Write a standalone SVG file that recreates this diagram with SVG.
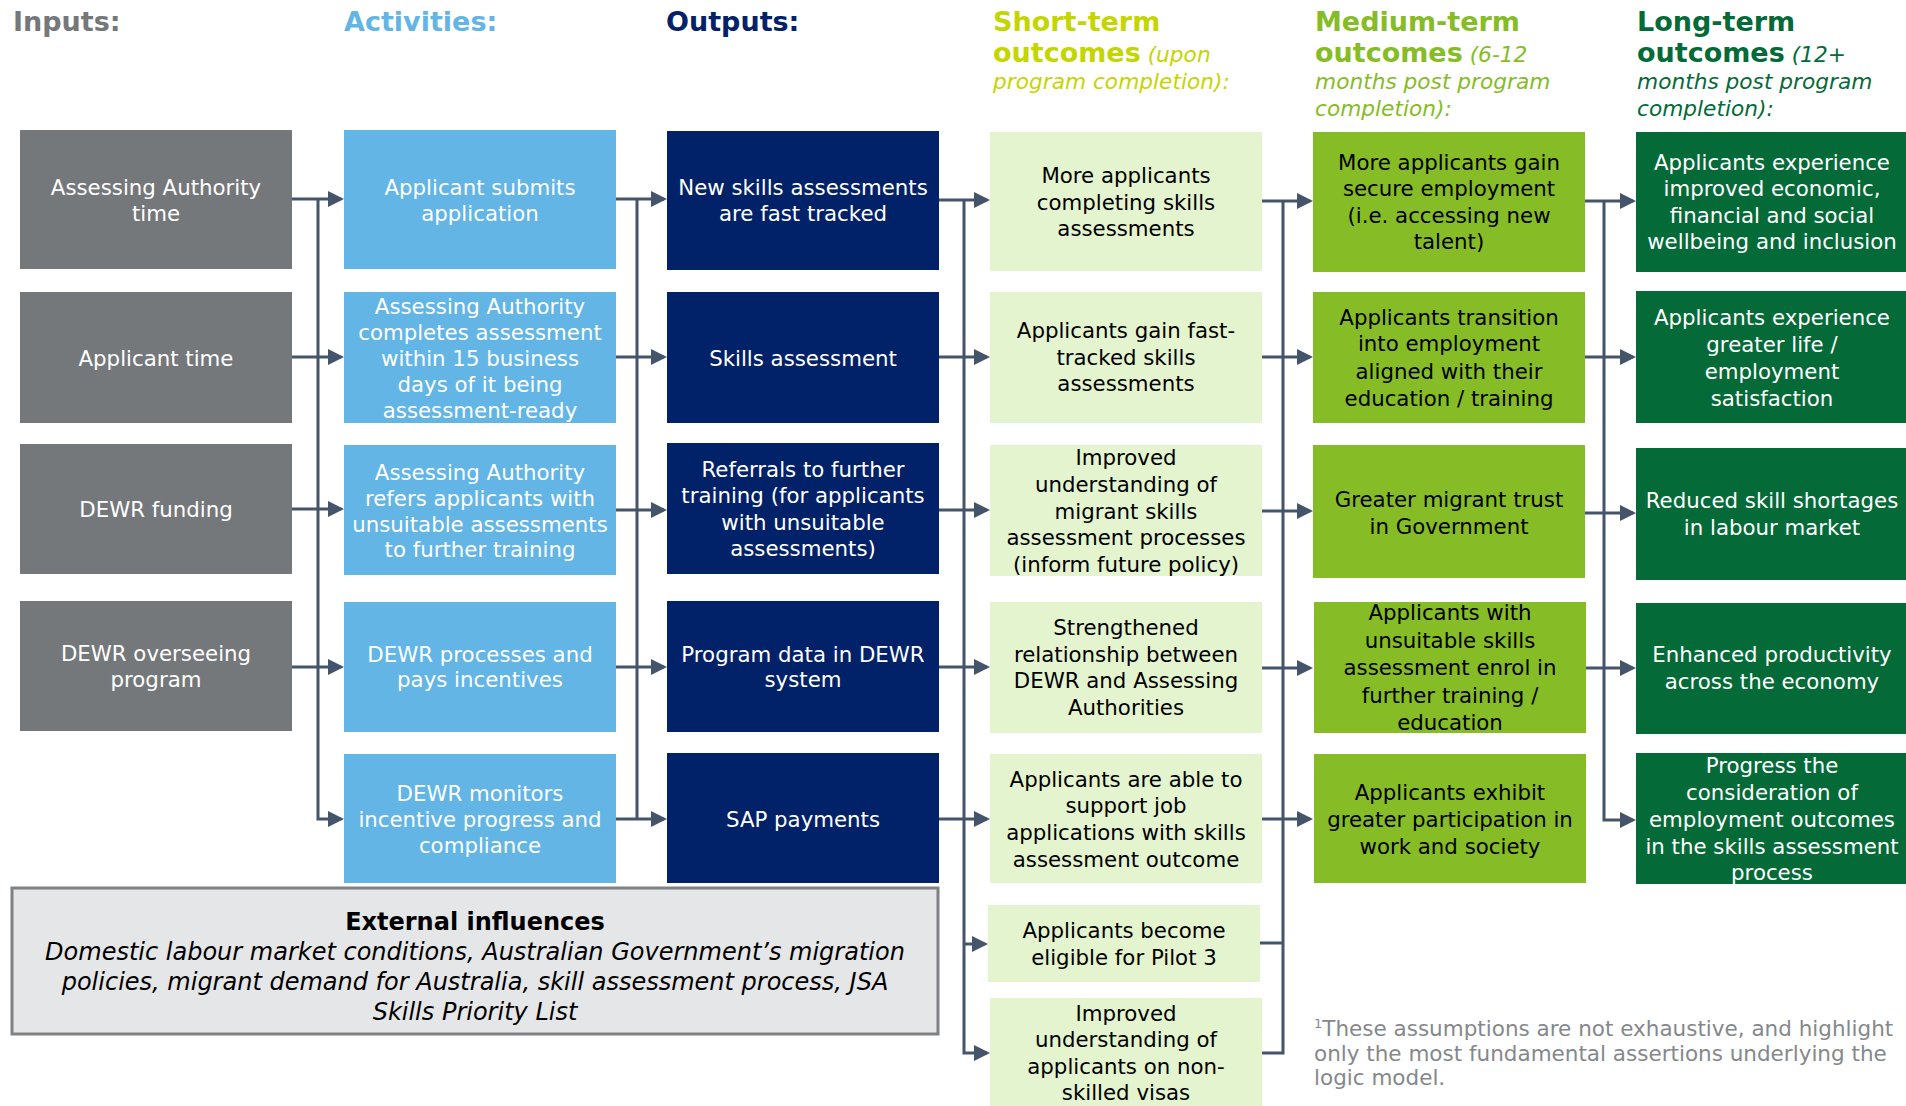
<svg xmlns="http://www.w3.org/2000/svg" width="1906" height="1106" viewBox="0 0 1906 1106">
<style>
.hd{font-family:"DejaVu Sans",Verdana,sans-serif;font-weight:bold;font-size:27px}
.hi{font-family:"DejaVu Sans",Verdana,sans-serif;font-style:italic;font-weight:normal;font-size:21.7px}
.t{font-family:"DejaVu Sans",Verdana,sans-serif;font-size:21.3px;text-anchor:middle}
.w{fill:#ffffff}
.k{fill:#000000}
.in{fill:#75787b}
.ac{fill:#62b5e5}
.ou{fill:#012169}
.st{fill:#e3f4cf}
.md{fill:#86bc25}
.lg{fill:#046a38}
.cn{fill:none;stroke:#44546a;stroke-width:3}
.fn{font-family:"DejaVu Sans",Verdana,sans-serif;font-size:21.5px;fill:#85888b}
.ex{font-family:"DejaVu Sans",Verdana,sans-serif;font-size:24px;text-anchor:middle;fill:#000000}
</style>
<defs>
<marker id="ah" markerUnits="userSpaceOnUse" viewBox="0 0 16 16" markerWidth="16" markerHeight="16" refX="13" refY="8" orient="auto">
<path d="M0,0 L16,8 L0,16 z" fill="#44546a"/>
</marker>
</defs>

<g id="headers">
<text class="hd" x="13" y="31" fill="#75787b">Inputs:</text>
<text class="hd" x="344" y="31" fill="#62b5e5">Activities:</text>
<text class="hd" x="666" y="31" fill="#012169">Outputs:</text>
<g fill="#c4d600">
<text class="hd" x="993" y="31">Short-term</text>
<text x="993" y="62"><tspan class="hd">outcomes</tspan><tspan class="hi"> (upon</tspan></text>
<text class="hi" x="993" y="89">program completion):</text>
</g>
<g fill="#86bc25">
<text class="hd" x="1315" y="31">Medium-term</text>
<text x="1315" y="62"><tspan class="hd">outcomes</tspan><tspan class="hi"> (6-12</tspan></text>
<text class="hi" x="1315" y="89">months post program</text>
<text class="hi" x="1315" y="116">completion):</text>
</g>
<g fill="#046a38">
<text class="hd" x="1637" y="31">Long-term</text>
<text x="1637" y="62"><tspan class="hd">outcomes</tspan><tspan class="hi"> (12+</tspan></text>
<text class="hi" x="1637" y="89">months post program</text>
<text class="hi" x="1637" y="116">completion):</text>
</g>
</g>

<g id="connectors">
<path class="cn" d="M292,199 H341" marker-end="url(#ah)"/>
<path class="cn" d="M292,357 H341" marker-end="url(#ah)"/>
<path class="cn" d="M292,509 H341" marker-end="url(#ah)"/>
<path class="cn" d="M292,667 H341" marker-end="url(#ah)"/>
<path class="cn" d="M318,199 V819 H341" marker-end="url(#ah)"/>

<path class="cn" d="M616,199 H664" marker-end="url(#ah)"/>
<path class="cn" d="M616,357 H664" marker-end="url(#ah)"/>
<path class="cn" d="M616,510 H664" marker-end="url(#ah)"/>
<path class="cn" d="M616,667 H664" marker-end="url(#ah)"/>
<path class="cn" d="M616,819 H664" marker-end="url(#ah)"/>
<path class="cn" d="M637,199 V819"/>

<path class="cn" d="M939,200 H987" marker-end="url(#ah)"/>
<path class="cn" d="M939,357 H987" marker-end="url(#ah)"/>
<path class="cn" d="M939,510 H987" marker-end="url(#ah)"/>
<path class="cn" d="M939,667 H987" marker-end="url(#ah)"/>
<path class="cn" d="M939,819 H987" marker-end="url(#ah)"/>
<path class="cn" d="M964,944 H985" marker-end="url(#ah)"/>
<path class="cn" d="M964,200 V1053 H987" marker-end="url(#ah)"/>

<path class="cn" d="M1262,201 H1310" marker-end="url(#ah)"/>
<path class="cn" d="M1262,357 H1310" marker-end="url(#ah)"/>
<path class="cn" d="M1262,511 H1310" marker-end="url(#ah)"/>
<path class="cn" d="M1262,668 H1310" marker-end="url(#ah)"/>
<path class="cn" d="M1262,819 H1310" marker-end="url(#ah)"/>
<path class="cn" d="M1260,943 H1283"/>
<path class="cn" d="M1262,1053 H1283 V201"/>

<path class="cn" d="M1585,201 H1633" marker-end="url(#ah)"/>
<path class="cn" d="M1585,357 H1633" marker-end="url(#ah)"/>
<path class="cn" d="M1585,513 H1633" marker-end="url(#ah)"/>
<path class="cn" d="M1585,668 H1633" marker-end="url(#ah)"/>
<path class="cn" d="M1604,201 V820 H1633" marker-end="url(#ah)"/>
</g>

<g id="in1"><rect class="in" x="20" y="130" width="272" height="139"/><text class="t w" x="156" y="195">Assessing Authority</text><text class="t w" x="156" y="221">time</text></g>
<g id="in2"><rect class="in" x="20" y="292" width="272" height="131"/><text class="t w" x="156" y="366">Applicant time</text></g>
<g id="in3"><rect class="in" x="20" y="444" width="272" height="130"/><text class="t w" x="156" y="517">DEWR funding</text></g>
<g id="in4"><rect class="in" x="20" y="601" width="272" height="130"/><text class="t w" x="156" y="661">DEWR overseeing</text><text class="t w" x="156" y="687">program</text></g>

<g id="ac1"><rect class="ac" x="344" y="130" width="272" height="139"/><text class="t w" x="480" y="195">Applicant submits</text><text class="t w" x="480" y="221">application</text></g>
<g id="ac2"><rect class="ac" x="344" y="292" width="272" height="131"/><text class="t w" x="480" y="314">Assessing Authority</text><text class="t w" x="480" y="340">completes assessment</text><text class="t w" x="480" y="366">within 15 business</text><text class="t w" x="480" y="392">days of it being</text><text class="t w" x="480" y="418">assessment-ready</text></g>
<g id="ac3"><rect class="ac" x="344" y="445" width="272" height="130"/><text class="t w" x="480" y="480">Assessing Authority</text><text class="t w" x="480" y="506">refers applicants with</text><text class="t w" x="480" y="532">unsuitable assessments</text><text class="t w" x="480" y="557">to further training</text></g>
<g id="ac4"><rect class="ac" x="344" y="602" width="272" height="130"/><text class="t w" x="480" y="662">DEWR processes and</text><text class="t w" x="480" y="687">pays incentives</text></g>
<g id="ac5"><rect class="ac" x="344" y="754" width="272" height="129"/><text class="t w" x="480" y="801">DEWR monitors</text><text class="t w" x="480" y="827">incentive progress and</text><text class="t w" x="480" y="853">compliance</text></g>

<g id="ou1"><rect class="ou" x="667" y="131" width="272" height="139"/><text class="t w" x="803" y="195">New skills assessments</text><text class="t w" x="803" y="221">are fast tracked</text></g>
<g id="ou2"><rect class="ou" x="667" y="292" width="272" height="131"/><text class="t w" x="803" y="366">Skills assessment</text></g>
<g id="ou3"><rect class="ou" x="667" y="443" width="272" height="131"/><text class="t w" x="803" y="477">Referrals to further</text><text class="t w" x="803" y="503">training (for applicants</text><text class="t w" x="803" y="530">with unsuitable</text><text class="t w" x="803" y="556">assessments)</text></g>
<g id="ou4"><rect class="ou" x="667" y="601" width="272" height="131"/><text class="t w" x="803" y="662">Program data in DEWR</text><text class="t w" x="803" y="687">system</text></g>
<g id="ou5"><rect class="ou" x="667" y="753" width="272" height="130"/><text class="t w" x="803" y="827">SAP payments</text></g>

<g id="st1"><rect class="st" x="990" y="132" width="272" height="139"/><text class="t k" x="1126" y="183">More applicants</text><text class="t k" x="1126" y="210">completing skills</text><text class="t k" x="1126" y="236">assessments</text></g>
<g id="st2"><rect class="st" x="990" y="292" width="272" height="131"/><text class="t k" x="1126" y="338">Applicants gain fast-</text><text class="t k" x="1126" y="365">tracked skills</text><text class="t k" x="1126" y="391">assessments</text></g>
<g id="st3"><rect class="st" x="990" y="445" width="272" height="131"/><text class="t k" x="1126" y="465">Improved</text><text class="t k" x="1126" y="492">understanding of</text><text class="t k" x="1126" y="519">migrant skills</text><text class="t k" x="1126" y="545">assessment processes</text><text class="t k" x="1126" y="572">(inform future policy)</text></g>
<g id="st4"><rect class="st" x="990" y="602" width="272" height="131"/><text class="t k" x="1126" y="635">Strengthened</text><text class="t k" x="1126" y="662">relationship between</text><text class="t k" x="1126" y="688">DEWR and Assessing</text><text class="t k" x="1126" y="715">Authorities</text></g>
<g id="st5"><rect class="st" x="990" y="754" width="272" height="129"/><text class="t k" x="1126" y="787">Applicants are able to</text><text class="t k" x="1126" y="813">support job</text><text class="t k" x="1126" y="840">applications with skills</text><text class="t k" x="1126" y="867">assessment outcome</text></g>
<g id="st6"><rect class="st" x="988" y="905" width="272" height="77"/><text class="t k" x="1124" y="938">Applicants become</text><text class="t k" x="1124" y="965">eligible for Pilot 3</text></g>
<g id="st7"><rect class="st" x="990" y="998" width="272" height="108"/><text class="t k" x="1126" y="1021">Improved</text><text class="t k" x="1126" y="1047">understanding of</text><text class="t k" x="1126" y="1074">applicants on non-</text><text class="t k" x="1126" y="1100">skilled visas</text></g>

<g id="md1"><rect class="md" x="1313" y="132" width="272" height="140"/><text class="t k" x="1449" y="170">More applicants gain</text><text class="t k" x="1449" y="196">secure employment</text><text class="t k" x="1449" y="223">(i.e. accessing new</text><text class="t k" x="1449" y="249">talent)</text></g>
<g id="md2"><rect class="md" x="1313" y="292" width="272" height="131"/><text class="t k" x="1449" y="325">Applicants transition</text><text class="t k" x="1449" y="351">into employment</text><text class="t k" x="1449" y="379">aligned with their</text><text class="t k" x="1449" y="406">education / training</text></g>
<g id="md3"><rect class="md" x="1313" y="445" width="272" height="133"/><text class="t k" x="1449" y="507">Greater migrant trust</text><text class="t k" x="1449" y="534">in Government</text></g>
<g id="md4"><rect class="md" x="1314" y="602" width="272" height="131"/><text class="t k" x="1450" y="620">Applicants with</text><text class="t k" x="1450" y="648">unsuitable skills</text><text class="t k" x="1450" y="675">assessment enrol in</text><text class="t k" x="1450" y="703">further training /</text><text class="t k" x="1450" y="730">education</text></g>
<g id="md5"><rect class="md" x="1314" y="754" width="272" height="129"/><text class="t k" x="1450" y="800">Applicants exhibit</text><text class="t k" x="1450" y="827">greater participation in</text><text class="t k" x="1450" y="854">work and society</text></g>

<g id="lg1"><rect class="lg" x="1636" y="132" width="272" height="140"/><text class="t w" x="1772" y="170">Applicants experience</text><text class="t w" x="1772" y="196">improved economic,</text><text class="t w" x="1772" y="223">financial and social</text><text class="t w" x="1772" y="249">wellbeing and inclusion</text></g>
<g id="lg2"><rect class="lg" x="1636" y="291" width="272" height="132"/><text class="t w" x="1772" y="325">Applicants experience</text><text class="t w" x="1772" y="352">greater life /</text><text class="t w" x="1772" y="379">employment</text><text class="t w" x="1772" y="406">satisfaction</text></g>
<g id="lg3"><rect class="lg" x="1636" y="448" width="272" height="132"/><text class="t w" x="1772" y="508">Reduced skill shortages</text><text class="t w" x="1772" y="535">in labour market</text></g>
<g id="lg4"><rect class="lg" x="1636" y="603" width="272" height="131"/><text class="t w" x="1772" y="662">Enhanced productivity</text><text class="t w" x="1772" y="689">across the economy</text></g>
<g id="lg5"><rect class="lg" x="1636" y="753" width="272" height="131"/><text class="t w" x="1772" y="773">Progress the</text><text class="t w" x="1772" y="800">consideration of</text><text class="t w" x="1772" y="827">employment outcomes</text><text class="t w" x="1772" y="854">in the skills assessment</text><text class="t w" x="1772" y="880">process</text></g>

<g id="external">
<rect x="12" y="888" width="926" height="146" fill="#e5e6e7" stroke="#7f8184" stroke-width="3"/>
<text class="ex" x="475" y="930" style="font-weight:bold">External influences</text>
<text class="ex" x="475" y="960" style="font-style:italic">Domestic labour market conditions, Australian Government’s migration</text>
<text class="ex" x="475" y="990" style="font-style:italic">policies, migrant demand for Australia, skill assessment process, JSA</text>
<text class="ex" x="475" y="1020" style="font-style:italic">Skills Priority List</text>
</g>

<g id="footnote">
<text class="fn" x="1314" y="1036"><tspan font-size="13" dy="-8">1</tspan><tspan dy="8">These assumptions are not exhaustive, and highlight</tspan></text>
<text class="fn" x="1314" y="1061">only the most fundamental assertions underlying the</text>
<text class="fn" x="1314" y="1085">logic model.</text>
</g>
</svg>
